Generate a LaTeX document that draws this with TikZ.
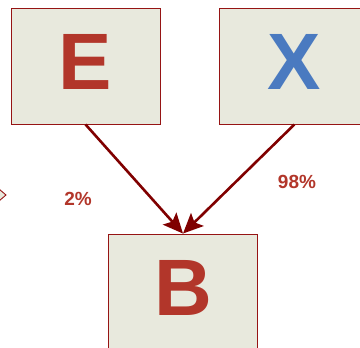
\documentclass[tikz,border=0pt]{standalone}
\usepackage{fontspec}
\setmainfont{Liberation Sans}
\usetikzlibrary{arrows.meta, positioning}
\definecolor{colorBoxFill}{RGB}{232,233,221}
\definecolor{colorBoxBorder}{RGB}{150,20,20}
\definecolor{colorLetterRed}{RGB}{178,54,42}
\definecolor{colorLetterBlue}{RGB}{74,122,192}
\definecolor{colorArrow}{RGB}{128,0,0}

\begin{document}
\begin{tikzpicture}[
    x=1pt, y=1pt,
    node distance=59pt and 59pt,
    varbox/.style={
        draw=colorBoxBorder, fill=colorBoxFill, line width=0.9pt,
        minimum width=149pt, minimum height=116pt, inner sep=0pt,
        font=\fontsize{80}{80}\selectfont\bfseries, text depth=9pt,
        text=colorLetterRed
    },
    arrow/.style={-{Stealth[length=20pt, width=18pt, inset=4pt]}, colorArrow, line width=2.6pt},
    prob/.style={font=\fontsize{19}{19}\selectfont\bfseries, text=colorLetterRed}
]
    \useasboundingbox (0,0) rectangle (360,-348);
    \clip (0,0) rectangle (360,-348);

    \node[varbox] (e) at (85.5,-66) {E};
    \node[varbox, right=of e, text=colorLetterBlue] (x) {X};
    \node[varbox] (b) at (183,-292) {B};

    % piece of a shape cut off at the left border
    \draw[colorBoxBorder, fill=colorBoxFill, line width=0.9pt]
        (-8,-183) -- (6,-195) -- (-8,-207);

    \draw[arrow] (e.south) -- (b.north);
    \draw[arrow] (x.south) -- (b.north);

    \node[prob] (pE) at (78,-199) {2\%};
    \node[prob] (pX) at (297,-182) {98\%};
\end{tikzpicture}
\end{document}
